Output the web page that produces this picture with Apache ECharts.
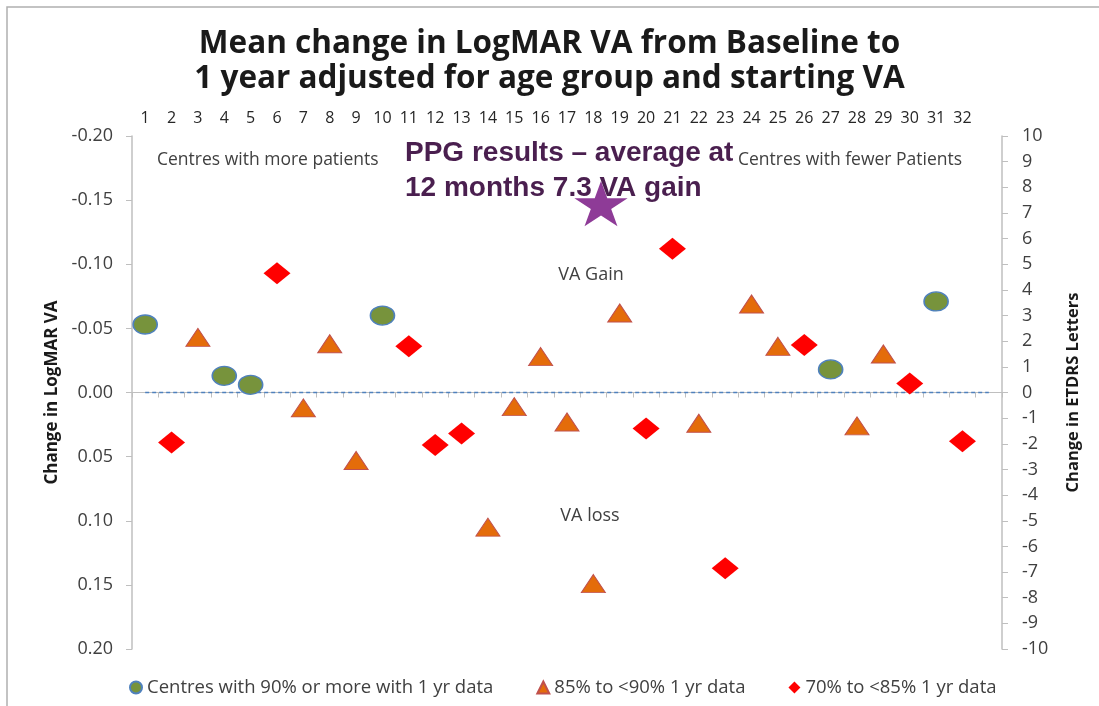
<!DOCTYPE html>
<html>
<head>
<meta charset="utf-8">
<script src="https://cdn.jsdelivr.net/npm/echarts@6/dist/echarts.min.js"></script>
<style>html,body{margin:0;padding:0;background:#fff;}#chart{width:1099px;height:706px;}</style>
</head>
<body>
<div id="chart"></div>
<script>
// Centre numbers (top axis), last empty slot gives the extra band on the right
var centreLabels = ['1','2','3','4','5','6','7','8','9','10','11','12','13','14','15','16','17','18','19','20','21','22','23','24','25','26','27','28','29','30','31','32',''];

// Centres with 90% or more with 1 yr data
var greenCentres = ['1','4','5','10','27','31'];
var greenValues  = [-0.053, -0.013, -0.006, -0.060, -0.018, -0.071];

// 85% to <90% 1 yr data
var triCentres = ['3','7','8','9','14','15','16','17','18','19','22','24','25','28','29'];
var triValues  = [-0.043, 0.012, -0.038, 0.053, 0.105, 0.011, -0.028, 0.023, 0.149, -0.062, 0.024, -0.069, -0.036, 0.026, -0.030];

// 70% to <85% 1 yr data
var diaCentres = ['2','6','11','12','13','20','21','23','26','30','32'];
var diaValues  = [0.039, -0.093, -0.036, 0.041, 0.032, 0.028, -0.112, 0.137, -0.037, -0.007, 0.038];

var seriesNames = ['Centres with 90% or more with 1 yr data', '85% to <90% 1 yr data', '70% to <85% 1 yr data'];

function pairs(cs, vs) { return cs.map(function (c, i) { return [c, vs[i]]; }); }

var FONT = '"Open Sans"';
var chart = echarts.init(document.getElementById('chart'), null, {renderer: 'canvas'});

// star annotation geometry (annotation shape, not a data mark)
function starPoints(cx, cy, rx, ry) {
  var pts = [];
  for (var k = 0; k < 10; k++) {
    var a = (-90 + 36 * k) * Math.PI / 180;
    var f = (k % 2 === 0) ? 1 : 0.382;
    pts.push([cx + rx * f * Math.cos(a), cy + ry * f * Math.sin(a)]);
  }
  return pts;
}

var option = {
  backgroundColor: '#ffffff',
  animation: false,
  title: {
    text: 'Mean change in LogMAR VA from Baseline to\n1 year adjusted for age group and starting VA',
    left: 'center',
    top: 22,
    textStyle: {fontFamily: FONT, fontWeight: 'bold', fontSize: 31.5, color: '#1a1a1a', lineHeight: 35}
  },
  legend: {
    data: [
      {name: seriesNames[0], icon: 'circle'},
      {name: seriesNames[1], icon: 'triangle'},
      {name: seriesNames[2], icon: 'diamond'}
    ],
    left: 124, top: 673,
    itemWidth: 12, itemHeight: 12, itemGap: 43,
    textStyle: {fontFamily: FONT, fontSize: 18.5, color: '#404040'}
  },
  grid: {left: 132, right: 97, top: 136, bottom: 57},
  xAxis: {
    type: 'category',
    position: 'top',
    data: centreLabels,
    boundaryGap: true,
    axisLine: {show: true, lineStyle: {color: '#bfbfbf', width: 1}},
    axisTick: {show: true, inside: true, length: 5, lineStyle: {color: '#bfbfbf'}},
    axisLabel: {fontFamily: FONT, fontSize: 16, color: '#262626', margin: 10, interval: 0},
    splitLine: {show: false}
  },
  yAxis: [
    {
      type: 'value', position: 'left', inverse: true,
      min: -0.2, max: 0.2, interval: 0.05,
      name: 'Change in LogMAR VA', nameLocation: 'middle', nameGap: 71, nameRotate: 90,
      nameTextStyle: {fontFamily: FONT, fontWeight: 'bold', fontSize: 17, color: '#1a1a1a'},
      axisLine: {show: true, lineStyle: {color: '#bfbfbf', width: 1.5}},
      axisTick: {show: true, length: 6, lineStyle: {color: '#bfbfbf'}},
      axisLabel: {fontFamily: FONT, fontSize: 18, color: '#404040', margin: 19,
        formatter: function (v) { return v.toFixed(2); }},
      splitLine: {show: false}
    },
    {
      type: 'value', position: 'right',
      min: -10, max: 10, interval: 1,
      name: 'Change in ETDRS Letters', nameLocation: 'middle', nameGap: 63, nameRotate: 90,
      nameTextStyle: {fontFamily: FONT, fontWeight: 'bold', fontSize: 16.5, color: '#1a1a1a'},
      axisLine: {show: true, lineStyle: {color: '#bfbfbf', width: 1.5}},
      axisTick: {show: true, length: 6, lineStyle: {color: '#bfbfbf'}},
      axisLabel: {fontFamily: FONT, fontSize: 18, color: '#404040', margin: 20, align: 'left'},
      splitLine: {show: false}
    }
  ],
  series: [
    {
      type: 'line', name: 'baseline', yAxisIndex: 0, silent: true,
      data: [[0, 0], [centreLabels.length - 1, 0]],
      symbol: 'none',
      lineStyle: {color: '#4f81bd', width: 1.5, type: [4, 3]},
      z: 1
    },
    {
      type: 'scatter', name: seriesNames[0], yAxisIndex: 0,
      data: pairs(greenCentres, greenValues),
      symbol: 'circle', symbolSize: [24, 19],
      itemStyle: {color: '#77933c', borderColor: '#4f81bd', borderWidth: 1.5, opacity: 1},
      z: 3
    },
    {
      type: 'scatter', name: seriesNames[1], yAxisIndex: 0,
      data: pairs(triCentres, triValues),
      symbol: 'triangle', symbolSize: [24, 18],
      itemStyle: {color: '#e46c0a', borderColor: '#c0504d', borderWidth: 1, opacity: 1},
      z: 3
    },
    {
      type: 'scatter', name: seriesNames[2], yAxisIndex: 0,
      data: pairs(diaCentres, diaValues),
      symbol: 'diamond', symbolSize: [27, 22],
      itemStyle: {color: '#ff0000', opacity: 1},
      z: 3
    }
  ],
  graphic: [
    {type: 'polyline', silent: true, z: 0,
      shape: {points: [[7, 706], [7, 7], [1099, 7]]},
      style: {stroke: '#b0b0b0', lineWidth: 1.5, fill: null}},
    {type: 'text', x: 157, y: 160, silent: true,
      style: {text: 'Centres with more patients', font: '17.5px "Open Sans"', fill: '#404040', verticalAlign: 'middle'}},
    {type: 'text', x: 738, y: 160, silent: true,
      style: {text: 'Centres with fewer Patients', font: '17.5px "Open Sans"', fill: '#404040', verticalAlign: 'middle'}},
    {type: 'text', x: 591, y: 275, silent: true,
      style: {text: 'VA Gain', font: '18px "Open Sans"', fill: '#404040', align: 'center', verticalAlign: 'middle'}},
    {type: 'text', x: 590, y: 516, silent: true,
      style: {text: 'VA loss', font: '18px "Open Sans"', fill: '#404040', align: 'center', verticalAlign: 'middle'}},
    {type: 'polygon', silent: true, z: 5,
      shape: {points: starPoints(601, 206, 28, 25)},
      style: {fill: '#8e3b97'}},
    {type: 'text', left: 405, top: 136, silent: true, z: 6,
      style: {text: 'PPG results \u2013 average at\n12 months 7.3 VA gain',
        font: 'bold 28px "Liberation Sans"', fill: '#4a1f4f', lineHeight: 35}}
  ]
};
chart.setOption(option);
</script>
</body>
</html>
